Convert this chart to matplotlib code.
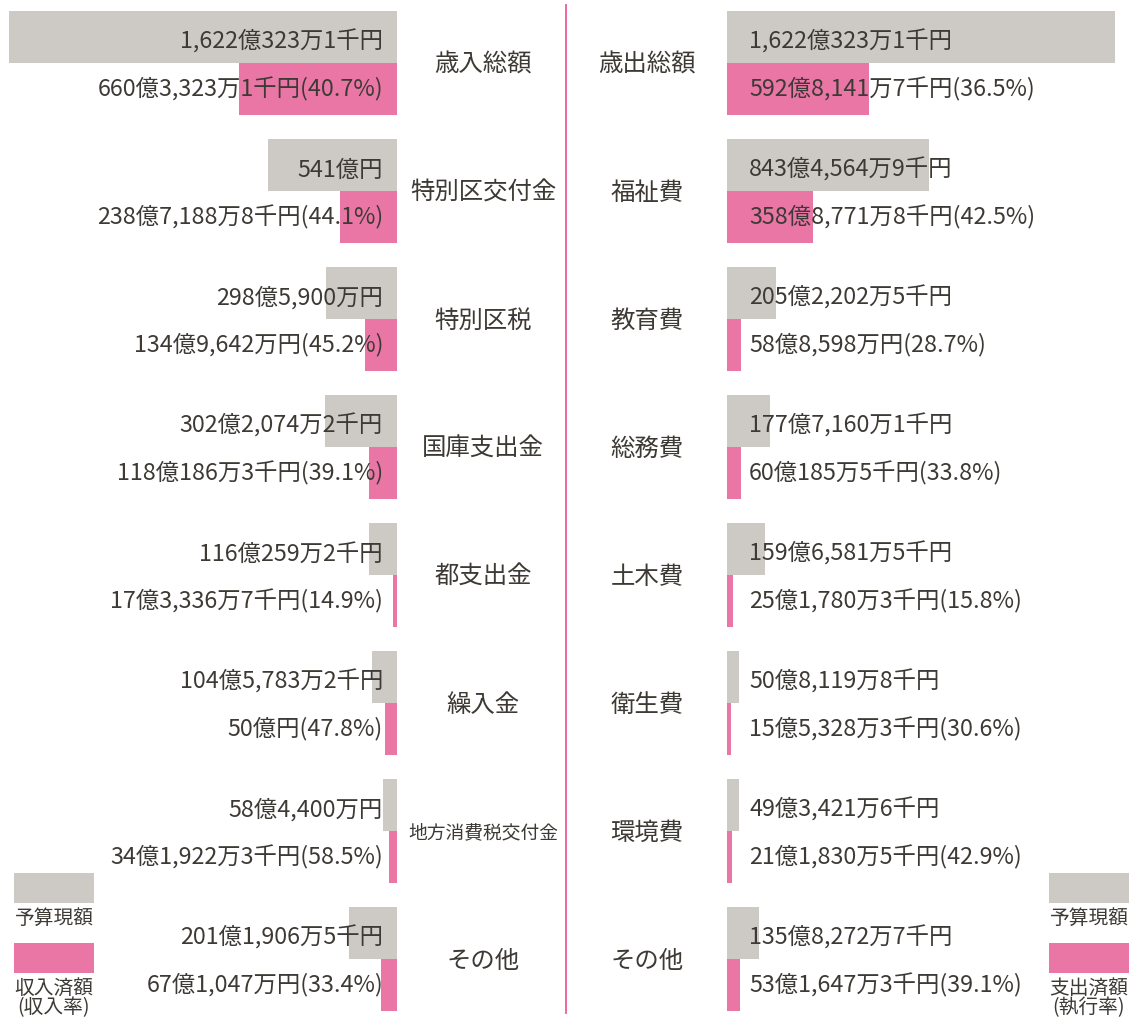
import matplotlib
matplotlib.use("Agg")
import matplotlib.pyplot as plt
from matplotlib.patches import Rectangle
from matplotlib.lines import Line2D

plt.rcParams['font.family'] = ['Noto Sans CJK JP', 'DejaVu Sans']

# ---- data (values in 千円) ----
rev_categories = ["歳入総額", "特別区交付金", "特別区税", "国庫支出金", "都支出金", "繰入金", "地方消費税交付金", "その他"]
rev_budget = [162203231, 54100000, 29859000, 30220742, 11602592, 10457832, 5844000, 20119065]
rev_actual = [66033231, 23871888, 13496420, 11801863, 1733367, 5000000, 3419223, 6710470]
rev_rate = [40.7, 44.1, 45.2, 39.1, 14.9, 47.8, 58.5, 33.4]

exp_categories = ["歳出総額", "福祉費", "教育費", "総務費", "土木費", "衛生費", "環境費", "その他"]
exp_budget = [162203231, 84345649, 20522025, 17771601, 15965815, 5081198, 4934216, 13582727]
exp_actual = [59281417, 35887718, 5885980, 6001855, 2517803, 1553283, 2118305, 5316473]
exp_rate = [36.5, 42.5, 28.7, 33.8, 15.8, 30.6, 42.9, 39.1]

GRAY = "#cdcac6"
PINK = "#ea76a6"
TXT = "#3d3934"
LINE = "#ee5a9c"


def fmt(v):
    oku = v // 100000
    man = (v % 100000) // 10
    sen = v % 10
    s = f"{oku:,}億"
    if man:
        s += f"{man:,}万"
    if sen:
        s += f"{sen}千"
    return s + "円"


W, H = 1130, 1019
fig = plt.figure(figsize=(W / 100, H / 100), dpi=100)
fig.patch.set_facecolor("white")

PITCH = 128.0
ROW0 = 63.0
ylim = ((H - ROW0) / PITCH, -ROW0 / PITCH)
bh = 52 / PITCH
MAXV = max(rev_budget) * 1.0

axL = fig.add_axes([9 / W, 0, 388 / W, 1])
axR = fig.add_axes([727 / W, 0, 388 / W, 1])
for ax in (axL, axR):
    ax.set_ylim(*ylim)
    ax.axis("off")
axL.set_xlim(MAXV, 0)
axR.set_xlim(0, MAXV)

ys = list(range(len(rev_categories)))
yg = [y - bh / 2 for y in ys]
yp = [y + bh / 2 for y in ys]

axL.barh(yg, rev_budget, height=bh, color=GRAY, linewidth=0)
axL.barh(yp, rev_actual, height=bh, color=PINK, linewidth=0)
axR.barh(yg, exp_budget, height=bh, color=GRAY, linewidth=0)
axR.barh(yp, exp_actual, height=bh, color=PINK, linewidth=0)

FS = 16.8
for i in ys:
    axL.annotate(fmt(rev_budget[i]), xy=(0, yg[i]), xytext=(-14, -5), textcoords="offset pixels",
                 ha="right", va="center", fontsize=FS, color=TXT)
    axL.annotate(f"{fmt(rev_actual[i])}({rev_rate[i]}%)", xy=(0, yp[i]), xytext=(-14, 0),
                 textcoords="offset pixels", ha="right", va="center", fontsize=FS, color=TXT)
    axR.annotate(fmt(exp_budget[i]), xy=(0, yg[i]), xytext=(22, -5), textcoords="offset pixels",
                 ha="left", va="center", fontsize=FS, color=TXT)
    axR.annotate(f"{fmt(exp_actual[i])}({exp_rate[i]}%)", xy=(0, yp[i]), xytext=(22, 0),
                 textcoords="offset pixels", ha="left", va="center", fontsize=FS, color=TXT)

    yc = 1 - (ROW0 + PITCH * i + 2) / H
    cfs = 13.5 if len(rev_categories[i]) > 6 else 17.6
    fig.text(483 / W, yc, rev_categories[i], ha="center", va="center", fontsize=cfs, color=TXT)
    fig.text(647 / W, yc, exp_categories[i], ha="center", va="center", fontsize=17.6, color=TXT)

# center divider
fig.add_artist(Line2D([566 / W, 566 / W], [1 - 5 / H, 1 - 1013 / H], color=LINE, lw=1.3))

# legends
LFS = 14.2
for x0, l1, l2 in ((14, "収入済額", "(収入率)"), (1049, "支出済額", "(執行率)")):
    fig.add_artist(Rectangle((x0 / W, 1 - 903 / H), 80 / W, 30 / H, transform=fig.transFigure,
                             facecolor=GRAY, edgecolor="none"))
    fig.add_artist(Rectangle((x0 / W, 1 - 973 / H), 80 / W, 30 / H, transform=fig.transFigure,
                             facecolor=PINK, edgecolor="none"))
    fig.text((x0 + 40) / W, 1 - 924 / H, "予算現額", ha="center", va="baseline", fontsize=LFS, color=TXT)
    fig.text((x0 + 40) / W, 1 - 994 / H, l1, ha="center", va="baseline", fontsize=LFS, color=TXT)
    fig.text((x0 + 40) / W, 1 - 1013 / H, l2, ha="center", va="baseline", fontsize=LFS, color=TXT)

fig.savefig("out.png", dpi=100, facecolor="white")
